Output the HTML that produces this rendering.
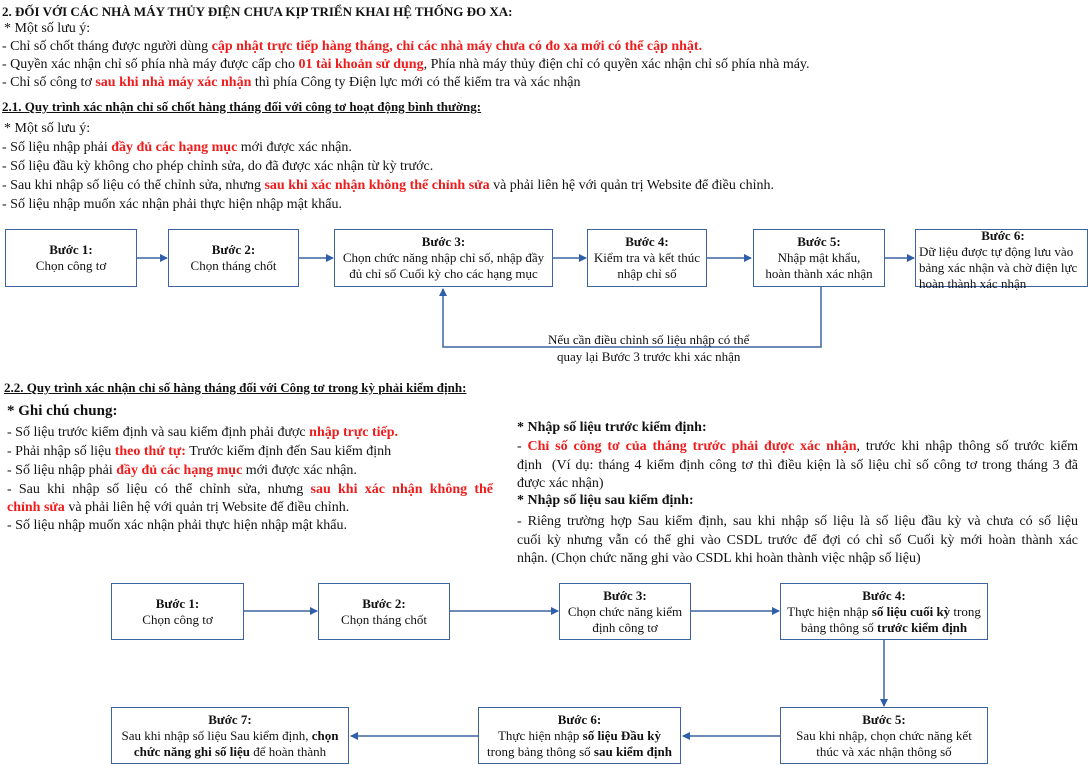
<!DOCTYPE html>
<html><head><meta charset="utf-8"><style>
body{margin:0;width:1089px;height:765px;background:#fff;position:relative;overflow:hidden;font-family:"Liberation Serif",serif;color:#111;}
.t{position:absolute;white-space:nowrap;font-size:14px;line-height:19px;}
.r{color:#ee1c1c;font-weight:bold;}
.b{font-weight:bold;}
.u{text-decoration:underline;font-weight:bold;font-size:13px;}
.box{position:absolute;border:1.5px solid #3d64a0;box-sizing:border-box;text-align:center;font-size:13px;line-height:16px;display:flex;flex-direction:column;justify-content:center;background:#fff;}
.box .h{font-weight:bold;}
svg{position:absolute;left:0;top:0;}
.jl{position:absolute;font-size:14px;line-height:19px;white-space:nowrap;text-align:justify;text-align-last:justify;}
</style></head><body>
<svg width="1089" height="765">
<defs><marker id="a" markerWidth="8" markerHeight="8" refX="7" refY="4" orient="auto" markerUnits="userSpaceOnUse"><path d="M0,0 L8,4 L0,8 z" fill="#2f5fa8"/></marker></defs>
<g stroke="#3d64a0" stroke-width="1.5" fill="none">
<line x1="137" y1="258" x2="167" y2="258" marker-end="url(#a)"/>
<line x1="299" y1="258" x2="333" y2="258" marker-end="url(#a)"/>
<line x1="553" y1="258" x2="586" y2="258" marker-end="url(#a)"/>
<line x1="707" y1="258" x2="751" y2="258" marker-end="url(#a)"/>
<line x1="885" y1="258" x2="914" y2="258" marker-end="url(#a)"/>
<polyline points="821,287 821,347 443,347 443,289" marker-end="url(#a)"/>
<line x1="244" y1="611" x2="317" y2="611" marker-end="url(#a)"/>
<line x1="450" y1="611" x2="558" y2="611" marker-end="url(#a)"/>
<line x1="691" y1="611" x2="779" y2="611" marker-end="url(#a)"/>
<line x1="884" y1="640" x2="884" y2="706" marker-end="url(#a)"/>
<line x1="780" y1="736" x2="683" y2="736" marker-end="url(#a)"/>
<line x1="478" y1="736" x2="351" y2="736" marker-end="url(#a)"/>
</g></svg>

<div class="t b" style="left:2px;top:2px;font-size:13px;">2. ĐỐI VỚI CÁC NHÀ MÁY THỦY ĐIỆN CHƯA KỊP TRIỂN KHAI HỆ THỐNG ĐO XA:</div>
<div class="t" style="left:4px;top:19px;">* Một số lưu ý:</div>
<div class="t" style="left:2px;top:37px;">- Chỉ số chốt tháng được người dùng <span class="r">cập nhật trực tiếp hàng tháng, chỉ các nhà máy chưa có đo xa mới có thể cập nhật.</span></div>
<div class="t" style="left:2px;top:55px;">- Quyền xác nhận chỉ số phía nhà máy được cấp cho <span class="r">01 tài khoản sử dụng</span>, Phía nhà máy thủy điện chỉ có quyền xác nhận chỉ số phía nhà máy.</div>
<div class="t" style="left:2px;top:73px;">- Chỉ số công tơ <span class="r">sau khi nhà máy xác nhận</span> thì phía Công ty Điện lực mới có thể kiểm tra và xác nhận</div>
<div class="t u" style="left:2px;top:97px;">2.1. Quy trình xác nhận chỉ số chốt hàng tháng đối với công tơ hoạt động bình thường:</div>
<div class="t" style="left:4px;top:119px;">* Một số lưu ý:</div>
<div class="t" style="left:2px;top:138px;">- Số liệu nhập phải <span class="r">đầy đủ các hạng mục</span> mới được xác nhận.</div>
<div class="t" style="left:2px;top:157px;">- Số liệu đầu kỳ không cho phép chỉnh sửa, do đã được xác nhận từ kỳ trước.</div>
<div class="t" style="left:2px;top:176px;">- Sau khi nhập số liệu có thể chỉnh sửa, nhưng <span class="r">sau khi xác nhận không thể chỉnh sửa</span> và phải liên hệ với quản trị Website để điều chỉnh.</div>
<div class="t" style="left:2px;top:195px;">- Số liệu nhập muốn xác nhận phải thực hiện nhập mật khẩu.</div>

<div class="box" style="left:5px;top:229px;width:132px;height:58px;"><div class="h">Bước 1:</div><div>Chọn công tơ</div></div>
<div class="box" style="left:168px;top:229px;width:131px;height:58px;"><div class="h">Bước 2:</div><div>Chọn tháng chốt</div></div>
<div class="box" style="left:334px;top:229px;width:219px;height:58px;"><div class="h">Bước 3:</div><div>Chọn chức năng nhập chỉ số, nhập đầy<br>đủ chỉ số Cuối kỳ cho các hạng mục</div></div>
<div class="box" style="left:587px;top:229px;width:120px;height:58px;"><div class="h">Bước 4:</div><div>Kiểm tra và kết thúc<br>nhập chỉ số</div></div>
<div class="box" style="left:753px;top:229px;width:132px;height:58px;"><div class="h">Bước 5:</div><div>Nhập mật khẩu,<br>hoàn thành xác nhận</div></div>
<div class="box" style="left:915px;top:229px;width:173px;height:58px;justify-content:flex-start;text-align:left;padding-left:3px;line-height:16px;"><div class="h" style="text-align:center;margin-top:-2px;">Bước 6:</div><div>Dữ liệu được tự động lưu vào<br>bảng xác nhận và chờ điện lực<br>hoàn thành xác nhận</div></div>
<div class="t" style="left:548px;top:331px;font-size:13px;line-height:17px;text-align:center;">Nếu cần điều chỉnh số liệu nhập có thể<br>quay lại Bước 3 trước khi xác nhận</div>

<div class="t u" style="left:4px;top:378px;">2.2. Quy trình xác nhận chỉ số hàng tháng đối với Công tơ trong kỳ phải kiểm định:</div>
<div class="t b" style="left:7px;top:402px;font-size:15px;">* Ghi chú chung:</div>
<div class="t" style="left:7px;top:423px;">- Số liệu trước kiểm định và sau kiểm định phải được <span class="r">nhập trực tiếp.</span></div>
<div class="t" style="left:7px;top:442px;">- Phải nhập số liệu <span class="r">theo thứ tự:</span> Trước kiểm định đến Sau kiểm định</div>
<div class="t" style="left:7px;top:461px;">- Số liệu nhập phải <span class="r">đầy đủ các hạng mục</span> mới được xác nhận.</div>
<div class="jl" style="left:7px;top:480px;width:486px;">- Sau khi nhập số liệu có thể chỉnh sửa, nhưng <span class="r">sau khi xác nhận không thể</span></div>
<div class="t" style="left:7px;top:498px;"><span class="r">chỉnh sửa</span> và phải liên hệ với quản trị Website để điều chỉnh.</div>
<div class="t" style="left:7px;top:516px;">- Số liệu nhập muốn xác nhận phải thực hiện nhập mật khẩu.</div>

<div class="t b" style="left:517px;top:418px;">* Nhập số liệu trước kiểm định:</div>
<div class="jl" style="left:517px;top:437px;width:561px;">- <span class="r">Chỉ số công tơ của tháng trước phải được xác nhận</span>, trước khi nhập thông số trước kiểm</div>
<div class="jl" style="left:517px;top:456px;width:561px;">định&nbsp; (Ví dụ: tháng 4 kiểm định công tơ thì điều kiện là số liệu chỉ số công tơ trong tháng 3 đã</div>
<div class="t" style="left:517px;top:474px;">được xác nhận)</div>
<div class="t b" style="left:517px;top:491px;">* Nhập số liệu sau kiểm định:</div>
<div class="jl" style="left:517px;top:512px;width:561px;">- Riêng trường hợp Sau kiểm định, sau khi nhập số liệu là số liệu đầu kỳ và chưa có số liệu</div>
<div class="jl" style="left:517px;top:531px;width:561px;">cuối kỳ nhưng vẫn có thể ghi vào CSDL trước để đợi có chỉ số Cuối kỳ mới hoàn thành xác</div>
<div class="t" style="left:517px;top:549px;">nhận. (Chọn chức năng ghi vào CSDL khi hoàn thành việc nhập số liệu)</div>

<div class="box" style="left:111px;top:583px;width:133px;height:57px;"><div class="h">Bước 1:</div><div>Chọn công tơ</div></div>
<div class="box" style="left:318px;top:583px;width:132px;height:57px;"><div class="h">Bước 2:</div><div>Chọn tháng chốt</div></div>
<div class="box" style="left:559px;top:583px;width:132px;height:57px;"><div class="h">Bước 3:</div><div>Chọn chức năng kiểm<br>định công tơ</div></div>
<div class="box" style="left:780px;top:583px;width:208px;height:57px;"><div class="h">Bước 4:</div><div>Thực hiện nhập <b>số liệu cuối kỳ</b> trong<br>bảng thông số <b>trước kiểm định</b></div></div>
<div class="box" style="left:780px;top:707px;width:208px;height:57px;"><div class="h">Bước 5:</div><div>Sau khi nhập, chọn chức năng kết<br>thúc và xác nhận thông số</div></div>
<div class="box" style="left:478px;top:707px;width:203px;height:57px;"><div class="h">Bước 6:</div><div>Thực hiện nhập <b>số liệu Đầu kỳ</b><br>trong bảng thông số <b>sau kiểm định</b></div></div>
<div class="box" style="left:111px;top:707px;width:238px;height:57px;"><div class="h">Bước 7:</div><div>Sau khi nhập số liệu Sau kiểm định, <b>chọn</b><br><b>chức năng ghi số liệu</b> để hoàn thành</div></div>
</body></html>
